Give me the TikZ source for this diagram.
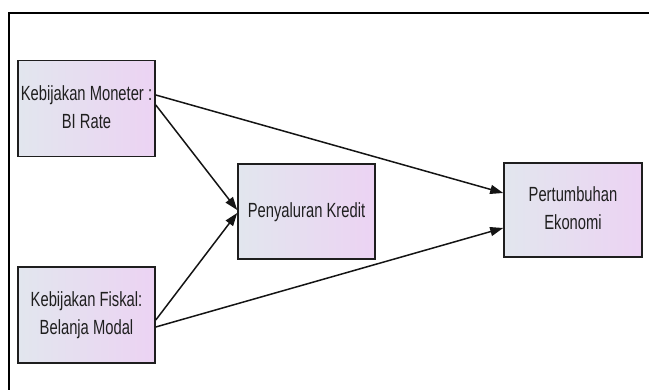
\documentclass[tikz,border=0pt]{standalone}
\usepackage{fontspec}
\setmainfont{Liberation Sans}
\usetikzlibrary{arrows.meta}
\definecolor{boxleft}{HTML}{E2E6EE}
\definecolor{boxright}{HTML}{ECD3F3}
\definecolor{boxline}{HTML}{1E1E1E}
\newcommand{\boxtext}[1]{\scalebox{0.72}[1]{\fontsize{20.5}{28}\selectfont\begin{tabular}{@{}c@{}}#1\end{tabular}}}
\begin{document}
\begin{tikzpicture}[x=1pt,y=1pt,
  varbox/.style={draw=boxline,line width=1.6pt,left color=boxleft,right color=boxright,
    minimum width=137pt,minimum height=96pt,inner sep=0pt,text=black!88,align=center},
  conn/.style={line width=1.5pt,draw=black!92,-{Triangle[length=13pt,width=9pt]}}]
\useasboundingbox (0,0) rectangle (649,390);
\coordinate (fc) at (9,377);
\coordinate (fr) at (649,377);
\coordinate (fb) at (9,0);
\draw[line width=1.3pt] (fb) -- (fc) -- (fr);
\node[varbox] (b1) at (86.5,281.5) {\boxtext{Kebijakan Moneter :\\BI Rate}};
\node[varbox,minimum height=95pt] (b2) at (306.5,178.5) {\boxtext{Penyaluran Kredit}};
\node[varbox,minimum width=138pt,minimum height=94pt] (b3) at (573,180) {\boxtext{Pertumbuhan\\Ekonomi}};
\node[varbox] (b4) at (86.5,75) {\boxtext{Kebijakan Fiskal:\\Belanja Modal}};
\draw[conn] ([yshift=13.5pt]b1.east) -- ([yshift=17pt]b3.west);
\draw[conn] ([yshift=3.5pt]b1.east) -- ([yshift=1.5pt]b2.west);
\draw[conn] ([yshift=-5pt]b4.east) -- ([yshift=-1.5pt]b2.west);
\draw[conn] ([yshift=-12pt]b4.east) -- ([yshift=-18pt]b3.west);
\end{tikzpicture}
\end{document}
